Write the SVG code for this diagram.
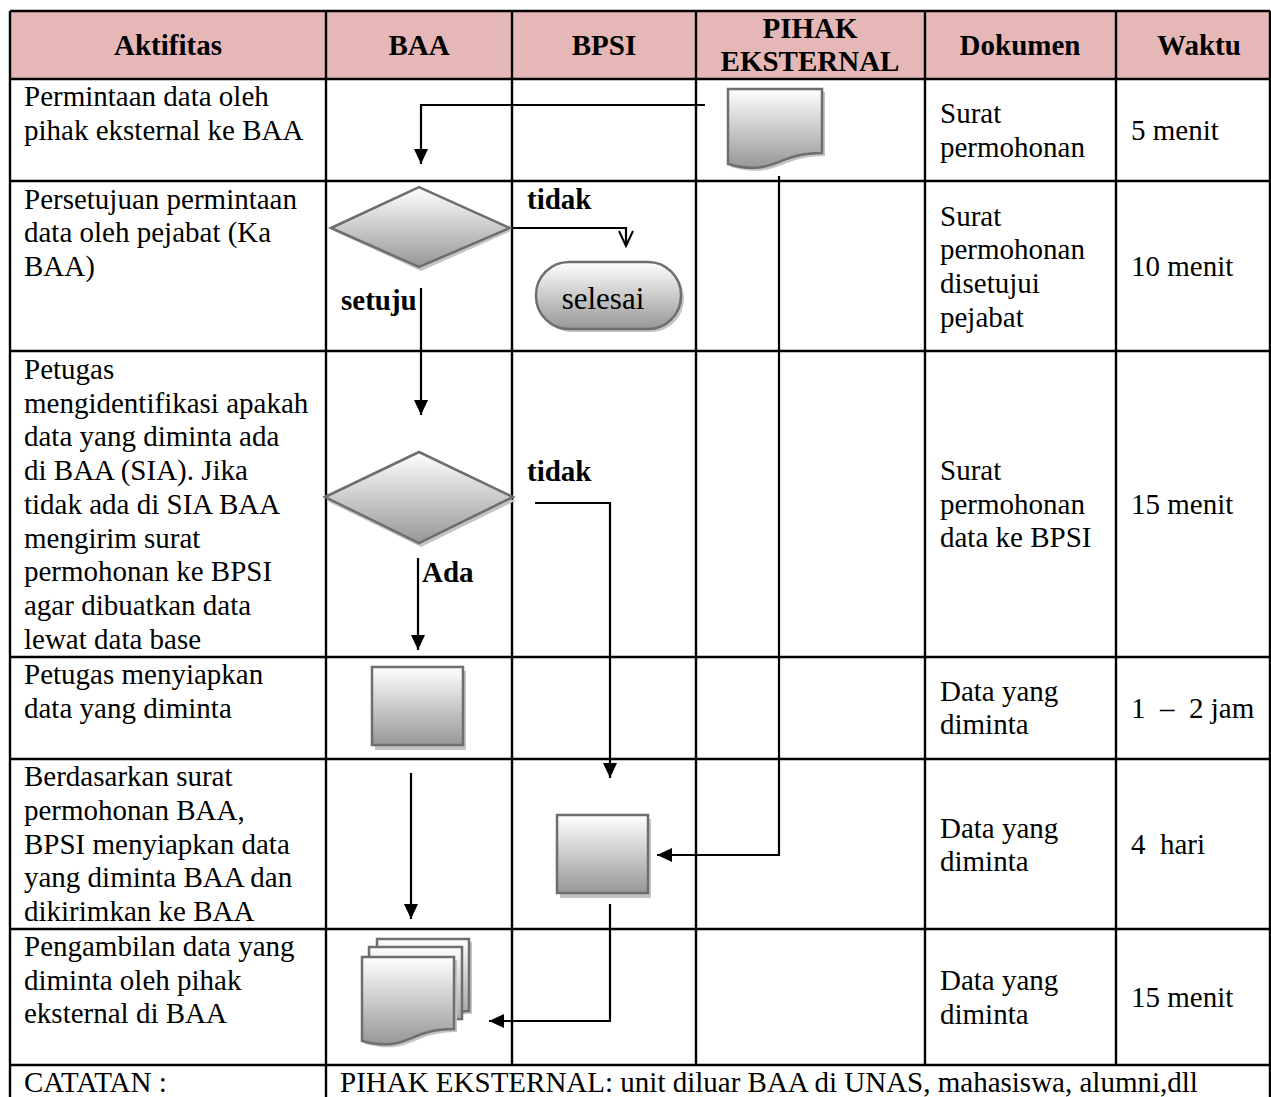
<svg xmlns="http://www.w3.org/2000/svg" width="1271" height="1097" viewBox="0 0 1271 1097">
  <defs>
    <linearGradient id="shade" x1="0" y1="0" x2="0" y2="1">
      <stop offset="0" stop-color="#ffffff"/>
      <stop offset="1" stop-color="#979797"/>
    </linearGradient>
    <marker id="arrow" markerUnits="userSpaceOnUse" markerWidth="16" markerHeight="16" viewBox="0 0 16 16" refX="15" refY="8" orient="auto">
      <path d="M0,1 L15,8 L0,15 Z" fill="#000"/>
    </marker>
    <marker id="open" markerUnits="userSpaceOnUse" markerWidth="18" markerHeight="18" viewBox="0 0 18 18" refX="16" refY="9" orient="auto">
      <path d="M1,2 L16,9 L1,16" fill="none" stroke="#000" stroke-width="2"/>
    </marker>
  </defs>
  <style>
    .grid { stroke: #000; stroke-width: 2.4; fill: none; }
    .txt { font-family: "Liberation Serif", "Times New Roman", serif; font-size: 29px; fill: #000; }
    .hdr { font-family: "Liberation Serif", "Times New Roman", serif; font-size: 29px; font-weight: bold; fill: #000; text-anchor: middle; }
    .lbl { font-family: "Liberation Serif", "Times New Roman", serif; font-size: 29px; font-weight: bold; fill: #000; }
    .shape { fill: url(#shade); stroke: #6e6e6e; stroke-width: 2.5; }
    .shadow { fill: #c4c4c4; stroke: none; }
    .conn { stroke: #000; stroke-width: 2.2; fill: none; }
  </style>

  <!-- table frame -->
  <g id="table">
    <rect x="10" y="11" width="1260" height="68" fill="#e5b8b7"/>
    <path class="grid" d="M10,11 H1270 M10,79 H1270 M10,181 H1270 M10,351 H1270 M10,657 H1270 M10,759 H1270 M10,929 H1270 M10,1065 H1270"/>
    <path class="grid" d="M10,11 V1097 M326,11 V1097 M512,11 V1065 M696,11 V1065 M925,11 V1065 M1116,11 V1065 M1270,11 V1097"/>
  </g>

  <!-- column headings -->
  <g id="headings">
    <text class="hdr" x="168" y="55">Aktifitas</text>
    <text class="hdr" x="419" y="55">BAA</text>
    <text class="hdr" x="604" y="55">BPSI</text>
    <text class="hdr" x="810" y="38">PIHAK</text>
    <text class="hdr" x="810" y="71">EKSTERNAL</text>
    <text class="hdr" x="1020" y="55">Dokumen</text>
    <text class="hdr" x="1199" y="55">Waktu</text>
  </g>

  <!-- activity descriptions -->
  <g id="activities" class="txt">
    <text x="24" y="106">Permintaan data oleh</text>
    <text x="24" y="140">pihak eksternal ke BAA</text>
    <text x="24" y="209">Persetujuan permintaan</text>
    <text x="24" y="242">data oleh pejabat (Ka</text>
    <text x="24" y="276">BAA)</text>
    <text x="24" y="379">Petugas</text>
    <text x="24" y="413">mengidentifikasi apakah</text>
    <text x="24" y="446">data yang diminta ada</text>
    <text x="24" y="480">di BAA (SIA). Jika</text>
    <text x="24" y="514">tidak ada di SIA BAA</text>
    <text x="24" y="548">mengirim surat</text>
    <text x="24" y="581">permohonan ke BPSI</text>
    <text x="24" y="615">agar dibuatkan data</text>
    <text x="24" y="649">lewat data base</text>
    <text x="24" y="684">Petugas menyiapkan</text>
    <text x="24" y="718">data yang diminta</text>
    <text x="24" y="786">Berdasarkan surat</text>
    <text x="24" y="820">permohonan BAA,</text>
    <text x="24" y="854">BPSI menyiapkan data</text>
    <text x="24" y="887">yang diminta BAA dan</text>
    <text x="24" y="921">dikirimkan ke BAA</text>
    <text x="24" y="956">Pengambilan data yang</text>
    <text x="24" y="990">diminta oleh pihak</text>
    <text x="24" y="1023">eksternal di BAA</text>
    <text x="24" y="1092">CATATAN :</text>
    <text x="340" y="1092">PIHAK EKSTERNAL: unit diluar BAA di UNAS, mahasiswa, alumni,dll</text>
  </g>

  <!-- documents column -->
  <g id="documents" class="txt">
    <text x="940" y="123">Surat</text>
    <text x="940" y="157">permohonan</text>
    <text x="940" y="226">Surat</text>
    <text x="940" y="259">permohonan</text>
    <text x="940" y="293">disetujui</text>
    <text x="940" y="327">pejabat</text>
    <text x="940" y="480">Surat</text>
    <text x="940" y="514">permohonan</text>
    <text x="940" y="547">data ke BPSI</text>
    <text x="940" y="701">Data yang</text>
    <text x="940" y="734">diminta</text>
    <text x="940" y="838">Data yang</text>
    <text x="940" y="871">diminta</text>
    <text x="940" y="990">Data yang</text>
    <text x="940" y="1024">diminta</text>
  </g>

  <!-- time column -->
  <g id="times" class="txt">
    <text x="1131" y="140">5 menit</text>
    <text x="1131" y="276">10 menit</text>
    <text x="1131" y="514">15 menit</text>
    <text x="1131" y="718" xml:space="preserve">1  –  2 jam</text>
    <text x="1131" y="854" xml:space="preserve">4  hari</text>
    <text x="1131" y="1007">15 menit</text>
  </g>

  <!-- connectors -->
  <g id="connectors">
    <path class="conn" d="M705,105 H421 V164" marker-end="url(#arrow)"/>
    <path class="conn" d="M511,228 H626 V246" marker-end="url(#open)"/>
    <path class="conn" d="M421,288 V415" marker-end="url(#arrow)"/>
    <path class="conn" d="M418,558 V650" marker-end="url(#arrow)"/>
    <path class="conn" d="M535,503 H610 V778" marker-end="url(#arrow)"/>
    <path class="conn" d="M411,773 V919" marker-end="url(#arrow)"/>
    <path class="conn" d="M779,176 V855 H657" marker-end="url(#arrow)"/>
    <path class="conn" d="M610,904 V1021 H489" marker-end="url(#arrow)"/>
  </g>

  <!-- flow labels -->
  <g id="labels" class="lbl">
    <text x="527" y="209">tidak</text>
    <text x="341" y="310">setuju</text>
    <text x="527" y="481">tidak</text>
    <text x="422" y="582">Ada</text>
  </g>

  <!-- request letter from the external party -->
  <g id="doc-request">
    <path class="shadow" d="M731,92 H825 V156 C778,156 778,180 731,167 Z"/>
    <path class="shape" d="M728,89 H822 V153 C775,153 775,177 728,164 Z"/>
  </g>

  <!-- approval decision -->
  <g id="decision-approve">
    <path class="shadow" d="M334,231 L421,192 L511,231 L421,271 Z"/>
    <path class="shape" d="M331,228 L419,187 L510,228 L419,267 Z"/>
  </g>

  <!-- end terminator -->
  <g id="end-selesai">
    <rect class="shadow" x="539" y="265" width="145" height="67" rx="33"/>
    <rect class="shape" x="536" y="262" width="145" height="67" rx="33"/>
    <text class="txt" x="603" y="309" text-anchor="middle" style="font-size:31px">selesai</text>
  </g>

  <!-- data availability decision -->
  <g id="decision-data">
    <path class="shadow" d="M327,501 L421,456 L515,501 L421,547 Z"/>
    <path class="shape" d="M325,497 L419,452 L513,497 L419,543 Z"/>
  </g>

  <!-- BAA prepares the data -->
  <g id="process-baa">
    <rect class="shadow" x="375" y="671" width="91" height="79"/>
    <rect class="shape" x="372" y="667" width="91" height="78"/>
  </g>

  <!-- BPSI prepares the data -->
  <g id="process-bpsi">
    <rect class="shadow" x="560" y="819" width="91" height="79"/>
    <rect class="shape" x="557" y="815" width="91" height="78"/>
  </g>

  <!-- data handed over (multiple documents) -->
  <g id="multidoc-result">
    <path class="shadow" d="M380,942 H472 V1014 C426,1014 426,1038 380,1026 Z"/>
    <path class="shape" d="M377,939 H469 V1011 C423,1011 423,1035 377,1023 Z"/>
    <path class="shape" d="M369,947 H462 V1019 C415,1019 415,1043 369,1031 Z"/>
    <path class="shadow" d="M365,960 H457 V1032 C411,1032 411,1056 365,1044 Z"/>
    <path class="shape" d="M362,957 H454 V1029 C408,1029 408,1053 362,1041 Z"/>
  </g>
</svg>
